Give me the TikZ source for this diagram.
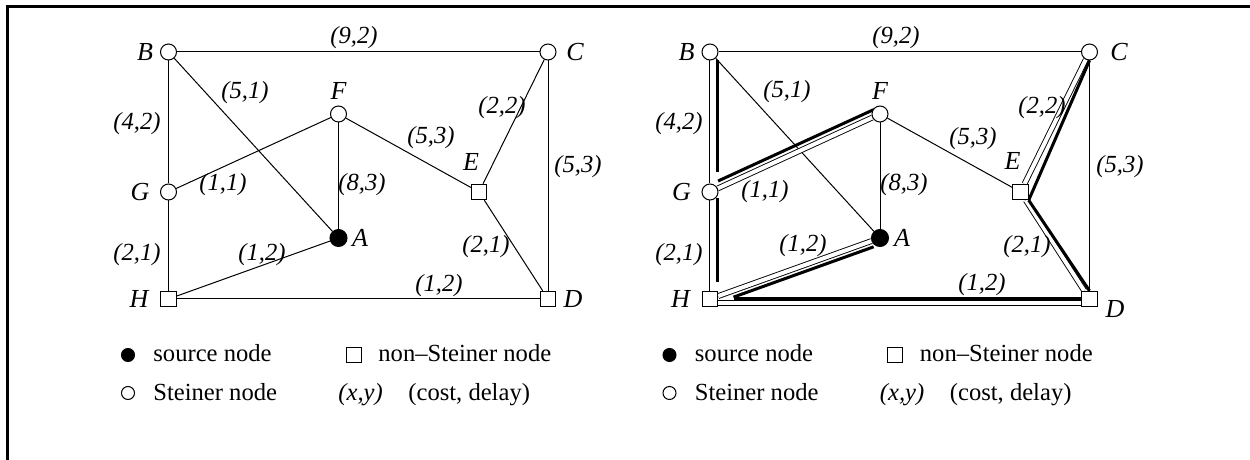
\documentclass[tikz,border=0pt]{standalone}
\usepackage{fontspec}
\setmainfont{Liberation Serif}
\pgfdeclarelayer{bg}
\pgfsetlayers{bg,main}
\newcommand\elfont{\fontsize{12.3}{14}\selectfont\itshape}
\newcommand\ltfont{\fontsize{13}{15}\selectfont\itshape}
\newcommand\lgfont{\fontsize{12.3}{14}\selectfont}
\tikzset{
  edge/.style={line width=0.5pt},
  tree/.style={double, line width=0.45pt, double distance=2pt},
  thk/.style={line width=1.5pt},
  stn/.style={circle, draw, fill=white, line width=0.5pt, minimum size=8pt, inner sep=0pt},
  src/.style={circle, draw, fill=black, line width=0.5pt, minimum size=8.5pt, inner sep=0pt},
  nsn/.style={rectangle, draw, fill=white, line width=0.5pt, minimum size=7.7pt, inner sep=0pt},
  lbl/.style={font=\ltfont, inner sep=0pt},
  elbl/.style={font=\elfont, inner sep=0pt},
  lgt/.style={font=\lgfont, inner sep=0pt},
}
\begin{document}
\begin{tikzpicture}[x=0.5pt,y=-0.5pt]
\useasboundingbox (0,0) rectangle (1250,460);
% frame
\draw[line width=1.5pt] (7.5,460) -- (7.5,6.5) -- (1250,6.5);

% ---------------- left graph ----------------
\node[stn] (B) at (168.5,52) {};
\node[stn] (C) at (548,52) {};
\node[stn] (F) at (338.5,114) {};
\node[stn] (G) at (168.5,192) {};
\node[src] (A) at (338.5,238) {};
\node[nsn] (H) at (168.5,299) {};
\node[nsn] (E) at (479,192) {};
\node[nsn] (D) at (548,299) {};

\node[lbl] (Bl) at (145,52) {B};
\node[lbl] (Cl) at (575,52) {C};
\node[lbl] (Fl) at (338.5,91) {F};
\node[lbl] (Gl) at (140,192) {G};
\node[lbl] (Al) at (360,238) {A};
\node[lbl] (Hl) at (139,299) {H};
\node[lbl] (El) at (471,162) {E};
\node[lbl] (Dl) at (573,299) {D};

\node[elbl] (lBC) at (354,38) {(9,2)};
\node[elbl] (lBA) at (245,93) {(5,1)};
\node[elbl] (lBG) at (137,124) {(4,2)};
\node[elbl] (lGF) at (223,185) {(1,1)};
\node[elbl] (lFA) at (362,185) {(8,3)};
\node[elbl] (lFE) at (431,138) {(5,3)};
\node[elbl] (lEC) at (502,108) {(2,2)};
\node[elbl] (lCD) at (578,167) {(5,3)};
\node[elbl] (lGH) at (137,255) {(2,1)};
\node[elbl] (lHA) at (262,255) {(1,2)};
\node[elbl] (lED) at (486,247) {(2,1)};
\node[elbl] (lHD) at (439,286) {(1,2)};

\begin{pgfonlayer}{bg}
\draw[edge] (B) -- (C);
\draw[edge] (B) -- (G);
\draw[edge] (G) -- (H);
\draw[edge] (B) -- (A);
\draw[edge] (G) -- (F);
\draw[edge] (F) -- (A);
\draw[edge] (F) -- (E);
\draw[edge] (E) -- (C);
\draw[edge] (E) -- (D);
\draw[edge] (C) -- (D);
\draw[edge] (H) -- (A);
\draw[edge] (H) -- (D);
\end{pgfonlayer}

% legend left
\node[src, minimum size=6.5pt] (kA) at (128,355) {};
\node[lgt, anchor=base west] (kAt) at (153,361.5) {source node};
\node[nsn, minimum size=7.5pt] (kH) at (353.5,355) {};
\node[lgt, anchor=base west] (kHt) at (378,361.5) {non--Steiner node};
\node[stn, minimum size=6.5pt] (kB) at (128,393) {};
\node[lgt, anchor=base west] (kBt) at (153,400.5) {Steiner node};
\node[elbl, anchor=base west] (kX) at (338,400.5) {(x,y)};
\node[lgt, anchor=base west] (kXt) at (408,400.5) {(cost, delay)};

% ---------------- right graph ----------------
\node[stn] (B2) at (710,52) {};
\node[stn] (C2) at (1089.5,52) {};
\node[stn] (F2) at (880,114) {};
\node[stn] (G2) at (710,192) {};
\node[src] (A2) at (880,238) {};
\node[nsn] (H2) at (710,299) {};
\node[nsn] (E2) at (1020.5,192) {};
\node[nsn] (D2) at (1089.5,299) {};

\node[lbl] (Bl2) at (686.5,52) {B};
\node[lbl] (Cl2) at (1119,52) {C};
\node[lbl] (Fl2) at (880,91) {F};
\node[lbl] (Gl2) at (681.5,192) {G};
\node[lbl] (Al2) at (902,238) {A};
\node[lbl] (Hl2) at (680.5,299) {H};
\node[lbl] (El2) at (1012.5,161) {E};
\node[lbl] (Dl2) at (1115,309) {D};

\node[elbl] (lBC2) at (896,38) {(9,2)};
\node[elbl] (lBA2) at (787,92) {(5,1)};
\node[elbl] (lBG2) at (679,124) {(4,2)};
\node[elbl] (lGF2) at (765,192) {(1,1)};
\node[elbl] (lFA2) at (904,185) {(8,3)};
\node[elbl] (lFE2) at (973,139) {(5,3)};
\node[elbl] (lEC2) at (1042,108) {(2,2)};
\node[elbl] (lCD2) at (1120,167) {(5,3)};
\node[elbl] (lGH2) at (679,255) {(2,1)};
\node[elbl] (lHA2) at (803,246) {(1,2)};
\node[elbl] (lED2) at (1027,247) {(2,1)};
\node[elbl] (lHD2) at (982,285) {(1,2)};

\begin{pgfonlayer}{bg}
% plain edges
\draw[edge] (B2) -- (C2);
\draw[edge] (B2) -- (A2);
\draw[edge] (F2) -- (A2);
\draw[edge] (F2) -- (E2);
\draw[edge] (C2) -- (D2);
% tree edges (double)
\draw[tree, transform canvas={shift={(1.5,0)}}] (B2) -- (G2);
\draw[tree, transform canvas={shift={(1.5,0)}}] (G2) -- (H2);
\draw[tree] (G2) -- (F2);
\draw[tree] (H2) -- (A2);
\draw[tree, transform canvas={shift={(0,4)}}] (H2) -- (D2);
\draw[tree] (E2) -- (C2);
\draw[tree] (E2) -- (D2);
% thick parallels
\draw[thk, transform canvas={shift={(7.7,0)}}, shorten >=5.75pt] (B2) -- (G2);
\draw[thk, transform canvas={shift={(7.7,0)}}, shorten <=-1.25pt, shorten >=4.25pt] (G2) -- (H2);
\draw[thk, transform canvas={shift={(-2.8,-6)}}, shorten <=1.75pt, shorten >=-2.5pt] (G2) -- (F2);
\draw[thk, transform canvas={shift={(2.1,5.8)}}, shorten <=7pt] (H2) -- (A2);
\draw[thk, shorten <=7.75pt] (H2) -- (D2);
\draw[thk] (E2.south east) -- (C2.south);
\draw[thk] (E2.south east) -- (D2.north);
\end{pgfonlayer}

% legend right
\node[src, minimum size=6.5pt] (kA2) at (669.5,355) {};
\node[lgt, anchor=base west] (kAt2) at (694.5,361.5) {source node};
\node[nsn, minimum size=7.5pt] (kH2) at (895,355) {};
\node[lgt, anchor=base west] (kHt2) at (919.5,361.5) {non--Steiner node};
\node[stn, minimum size=6.5pt] (kB2) at (669.5,393) {};
\node[lgt, anchor=base west] (kBt2) at (694.5,400.5) {Steiner node};
\node[elbl, anchor=base west] (kX2) at (879.5,400.5) {(x,y)};
\node[lgt, anchor=base west] (kXt2) at (949.5,400.5) {(cost, delay)};
\end{tikzpicture}
\end{document}
